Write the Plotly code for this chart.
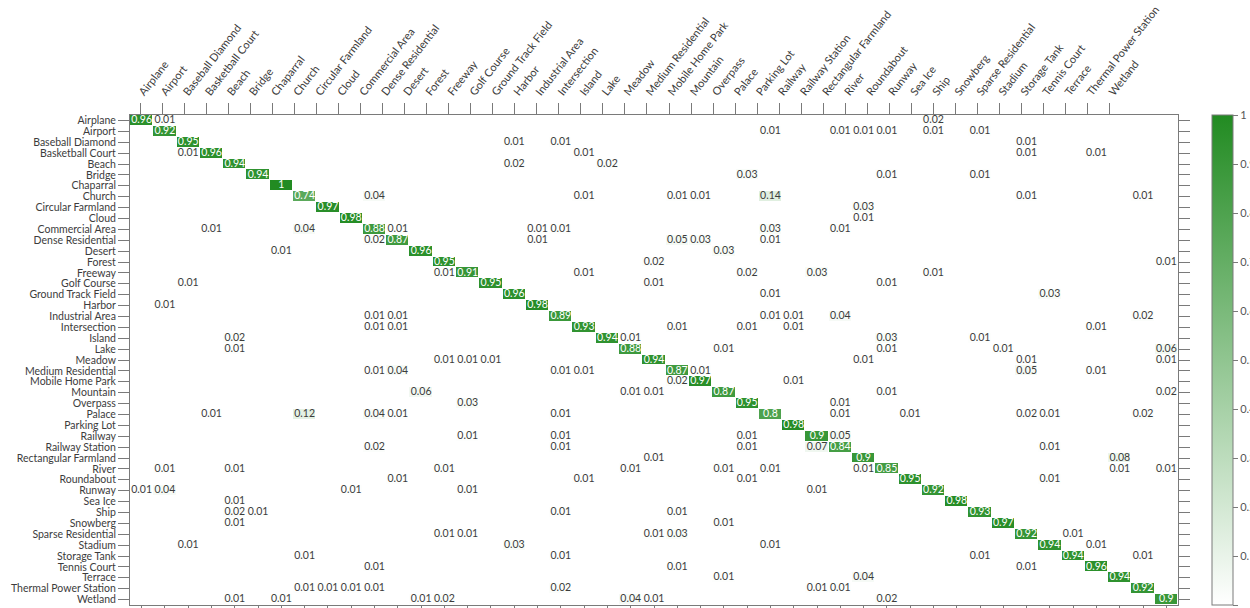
import plotly.graph_objects as go

classes = ["Airplane", "Airport", "Baseball Diamond", "Basketball Court", "Beach", "Bridge",
           "Chaparral", "Church", "Circular Farmland", "Cloud", "Commercial Area",
           "Dense Residential", "Desert", "Forest", "Freeway", "Golf Course",
           "Ground Track Field", "Harbor", "Industrial Area", "Intersection", "Island", "Lake",
           "Meadow", "Medium Residential", "Mobile Home Park", "Mountain", "Overpass", "Palace",
           "Parking Lot", "Railway", "Railway Station", "Rectangular Farmland", "River",
           "Roundabout", "Runway", "Sea Ice", "Ship", "Snowberg", "Sparse Residential",
           "Stadium", "Storage Tank", "Tennis Court", "Terrace", "Thermal Power Station",
           "Wetland"]

diagonal = [0.96, 0.92, 0.95, 0.96, 0.94, 0.94, 1, 0.74, 0.97, 0.98, 0.88, 0.87, 0.96, 0.95,
            0.91, 0.95, 0.96, 0.98, 0.89, 0.93, 0.94, 0.88, 0.94, 0.87, 0.97, 0.87, 0.95, 0.8,
            0.98, 0.9, 0.84, 0.9, 0.85, 0.95, 0.92, 0.98, 0.93, 0.97, 0.92, 0.94, 0.94, 0.96,
            0.94, 0.92, 0.9]

# (true class index, predicted class index, value)
off_diagonal = [
    (0, 1, 0.01), (0, 34, 0.02),
    (1, 27, 0.01), (1, 30, 0.01), (1, 31, 0.01), (1, 32, 0.01), (1, 34, 0.01), (1, 36, 0.01),
    (2, 16, 0.01), (2, 18, 0.01), (2, 38, 0.01),
    (3, 2, 0.01), (3, 19, 0.01), (3, 38, 0.01), (3, 41, 0.01),
    (4, 16, 0.02), (4, 20, 0.02),
    (5, 26, 0.03), (5, 32, 0.01), (5, 36, 0.01),
    (7, 10, 0.04), (7, 19, 0.01), (7, 23, 0.01), (7, 24, 0.01), (7, 27, 0.14), (7, 38, 0.01),
    (7, 43, 0.01),
    (8, 31, 0.03),
    (9, 31, 0.01),
    (10, 3, 0.01), (10, 7, 0.04), (10, 11, 0.01), (10, 17, 0.01), (10, 18, 0.01),
    (10, 27, 0.03), (10, 30, 0.01),
    (11, 10, 0.02), (11, 17, 0.01), (11, 23, 0.05), (11, 24, 0.03), (11, 27, 0.01),
    (12, 6, 0.01), (12, 25, 0.03),
    (13, 22, 0.02), (13, 44, 0.01),
    (14, 13, 0.01), (14, 19, 0.01), (14, 26, 0.02), (14, 29, 0.03), (14, 34, 0.01),
    (15, 2, 0.01), (15, 22, 0.01), (15, 32, 0.01),
    (16, 27, 0.01), (16, 39, 0.03),
    (17, 1, 0.01),
    (18, 10, 0.01), (18, 11, 0.01), (18, 27, 0.01), (18, 28, 0.01), (18, 30, 0.04),
    (18, 43, 0.02),
    (19, 10, 0.01), (19, 11, 0.01), (19, 23, 0.01), (19, 26, 0.01), (19, 28, 0.01),
    (19, 41, 0.01),
    (20, 4, 0.02), (20, 21, 0.01), (20, 32, 0.03), (20, 36, 0.01),
    (21, 4, 0.01), (21, 25, 0.01), (21, 32, 0.01), (21, 37, 0.01), (21, 44, 0.06),
    (22, 13, 0.01), (22, 14, 0.01), (22, 15, 0.01), (22, 31, 0.01), (22, 38, 0.01),
    (22, 44, 0.01),
    (23, 10, 0.01), (23, 11, 0.04), (23, 18, 0.01), (23, 19, 0.01), (23, 24, 0.01),
    (23, 38, 0.05), (23, 41, 0.01),
    (24, 23, 0.02), (24, 28, 0.01),
    (25, 12, 0.06), (25, 21, 0.01), (25, 22, 0.01), (25, 32, 0.01), (25, 44, 0.02),
    (26, 14, 0.03), (26, 30, 0.01),
    (27, 3, 0.01), (27, 7, 0.12), (27, 10, 0.04), (27, 11, 0.01), (27, 18, 0.01),
    (27, 30, 0.01), (27, 33, 0.01), (27, 38, 0.02), (27, 39, 0.01), (27, 43, 0.02),
    (29, 14, 0.01), (29, 18, 0.01), (29, 26, 0.01), (29, 30, 0.05),
    (30, 10, 0.02), (30, 18, 0.01), (30, 26, 0.01), (30, 29, 0.07), (30, 39, 0.01),
    (31, 22, 0.01), (31, 42, 0.08),
    (32, 1, 0.01), (32, 4, 0.01), (32, 13, 0.01), (32, 21, 0.01), (32, 25, 0.01),
    (32, 27, 0.01), (32, 31, 0.01), (32, 42, 0.01), (32, 44, 0.01),
    (33, 11, 0.01), (33, 19, 0.01), (33, 26, 0.01), (33, 39, 0.01),
    (34, 0, 0.01), (34, 1, 0.04), (34, 9, 0.01), (34, 14, 0.01), (34, 29, 0.01),
    (35, 4, 0.01),
    (36, 4, 0.02), (36, 5, 0.01), (36, 18, 0.01), (36, 23, 0.01),
    (37, 4, 0.01), (37, 25, 0.01),
    (38, 13, 0.01), (38, 14, 0.01), (38, 22, 0.01), (38, 23, 0.03), (38, 40, 0.01),
    (39, 2, 0.01), (39, 16, 0.03), (39, 27, 0.01), (39, 41, 0.01),
    (40, 7, 0.01), (40, 18, 0.01), (40, 36, 0.01), (40, 43, 0.01),
    (41, 10, 0.01), (41, 23, 0.01), (41, 38, 0.01),
    (42, 25, 0.01), (42, 31, 0.04),
    (43, 7, 0.01), (43, 8, 0.01), (43, 9, 0.01), (43, 10, 0.01), (43, 18, 0.02),
    (43, 29, 0.01), (43, 30, 0.01),
    (44, 4, 0.01), (44, 6, 0.01), (44, 12, 0.01), (44, 13, 0.02), (44, 21, 0.04),
    (44, 22, 0.01), (44, 32, 0.02),
]

colorbar_ticks = [0, 0.1, 0.2, 0.3, 0.4, 0.5, 0.6, 0.7, 0.8, 0.9, 1]

n = len(classes)
z = [[0.0] * n for _ in range(n)]
for i, v in enumerate(diagonal):
    z[i][i] = v
for r, c, v in off_diagonal:
    z[r][c] = v

tx, ty, tt, tc = [], [], [], []
for r in range(n):
    for c in range(n):
        v = z[r][c]
        if v > 0:
            tx.append(classes[c])
            ty.append(classes[r])
            tt.append(f"{v:g}")
            tc.append("#ffffff" if v >= 0.5 else "#3c3c3c")

FONT = "Lato"
GRAY = "#7a7a7a"

fig = go.Figure()
fig.add_trace(go.Heatmap(
    z=z, x=classes, y=classes, zmin=0, zmax=1,
    colorscale=[[0, "#ffffff"], [1, "#228B22"]],
    xgap=1, ygap=1, hoverinfo="skip",
    colorbar=dict(
        x=1.032, xanchor="left", y=0.5, yanchor="middle", len=1, lenmode="fraction",
        thickness=21, xpad=0, ypad=0, outlinecolor=GRAY, outlinewidth=1,
        tickvals=colorbar_ticks, ticks="outside", ticklen=5, tickcolor=GRAY,
        tickfont=dict(family=FONT, size=11, color="#555555"),
    ),
))
fig.add_trace(go.Scatter(
    x=tx, y=ty, text=tt, mode="text", textposition="middle center",
    textfont=dict(family=FONT, size=10.5, color=tc),
    hoverinfo="skip", showlegend=False,
))
# invisible helper so the top label axis is drawn
fig.add_trace(go.Scatter(
    x=[0], y=[classes[0]], xaxis="x2", mode="markers",
    marker=dict(opacity=0), hoverinfo="skip", showlegend=False,
))

fig.update_layout(
    width=1250, height=608,
    margin=dict(l=130, r=71.5, t=114.5, b=3.2, autoexpand=False),
    paper_bgcolor="white", plot_bgcolor="white",
    showlegend=False,
    xaxis=dict(
        type="category", categoryorder="array", categoryarray=classes,
        range=[-0.5, n - 0.5], showticklabels=False,
        tickmode="array", tickvals=classes, ticks="outside", ticklen=11,
        tickcolor=GRAY, showline=True, linecolor=GRAY, linewidth=1, mirror=True,
        showgrid=False, zeroline=False, automargin=False,
    ),
    xaxis2=dict(
        overlaying="x", side="top", anchor="y", type="linear",
        range=[-0.4535, 47.09], tickmode="array", tickvals=list(range(n)), ticktext=classes,
        tickangle=-52, ticks="outside", ticklen=11, tickcolor=GRAY,
        tickfont=dict(family=FONT, size=11, color="#3c3c3c"),
        showline=False, showgrid=False, zeroline=False, automargin=False,
    ),
    yaxis=dict(
        type="category", categoryorder="array", categoryarray=classes,
        range=[n - 0.5, -0.5], tickmode="array", tickvals=classes, ticktext=classes,
        ticks="outside", ticklen=11, tickcolor=GRAY,
        tickfont=dict(family=FONT, size=10.5, color="#3c3c3c"),
        showline=True, linecolor=GRAY, linewidth=1, mirror="ticks",
        showgrid=False, zeroline=False, automargin=False,
    ),
)

fig.write_html(
    "out.html",
    config={"displayModeBar": False},
    post_script="document.body.style.margin='0';document.body.style.overflow='hidden';",
)
